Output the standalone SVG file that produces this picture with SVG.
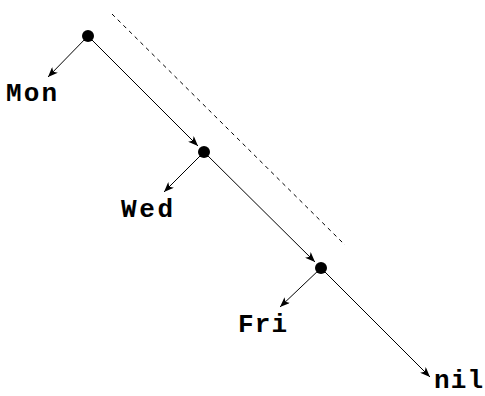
<svg xmlns="http://www.w3.org/2000/svg" width="485" height="396" viewBox="0 0 485 396">
<defs>
<marker id="ah" viewBox="0 0 10 8" refX="10" refY="4" markerWidth="10" markerHeight="8" markerUnits="userSpaceOnUse" orient="auto">
<path d="M0,0 L10,4 L0,8 L2.5,4 Z" fill="#000"/>
</marker>
<style>
.e{stroke:#000;stroke-width:1;fill:none;marker-end:url(#ah)}
.d{fill:#000}
.t{font-family:"Liberation Mono","Courier New",monospace;font-weight:bold;font-size:26px;fill:#000}
</style>
</defs>
<rect width="485" height="396" fill="#fff"/>
<g id="connectors">
<line class="e" x1="88" y1="36" x2="48" y2="77"/>
<line class="e" x1="88" y1="36" x2="198" y2="146"/>
<line class="e" x1="204" y1="152" x2="164" y2="192"/>
<line class="e" x1="204" y1="152" x2="315" y2="262"/>
<line class="e" x1="321" y1="268" x2="280" y2="307"/>
<line class="e" x1="321" y1="268" x2="430" y2="377"/>
<line x1="112" y1="14" x2="345" y2="245" stroke="#000" stroke-width="1" stroke-dasharray="4,4"/>
</g>
<g id="n1"><circle class="d" cx="88" cy="36" r="6"/></g>
<g id="n2"><circle class="d" cx="204" cy="152" r="6"/></g>
<g id="n3"><circle class="d" cx="321" cy="268" r="6"/></g>
<g id="mon"><text class="t" x="6" y="101" textLength="51">Mon</text></g>
<g id="wed"><text class="t" x="121" y="217" textLength="52">Wed</text></g>
<g id="fri"><text class="t" x="238" y="332" textLength="49">Fri</text></g>
<g id="nil"><text class="t" x="434" y="388" textLength="49">nil</text></g>
</svg>
